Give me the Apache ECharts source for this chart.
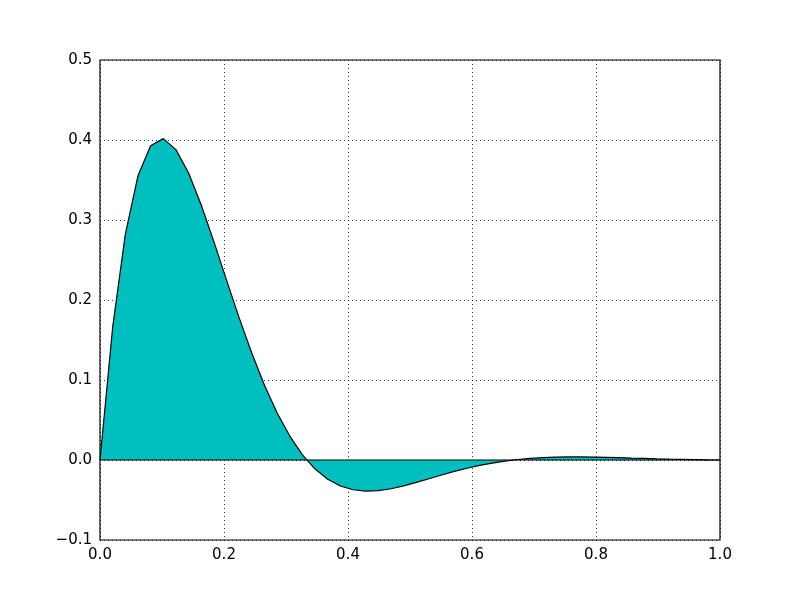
<!DOCTYPE html>
<html>
<head>
<meta charset="utf-8">
<script src="https://cdn.jsdelivr.net/npm/echarts@6/dist/echarts.min.js"></script>
<style>html,body{margin:0;padding:0;background:#fff;}#c{width:800px;height:600px;}</style>
</head>
<body>
<div id="c"></div>
<script>
// 50 evenly spaced samples on [0, 1]
const xValues = [];
for (let i = 0; i < 50; i++) xValues.push(i / 49);
const yValues = [
  0.0000, 0.1657, 0.2820, 0.3553, 0.3929, 0.4017, 0.3880, 0.3587, 0.3187, 0.2729,
  0.2249, 0.1777, 0.1335, 0.0934, 0.0587, 0.0299, 0.0065, -0.0113, -0.0241, -0.0325,
  -0.0372, -0.0388, -0.0382, -0.0359, -0.0323, -0.0280, -0.0234, -0.0187, -0.0143, -0.0103,
  -0.0067, -0.0038, -0.0013, 0.0006, 0.0020, 0.0029, 0.0035, 0.0038, 0.0038, 0.0036,
  0.0033, 0.0029, 0.0024, 0.0020, 0.0015, 0.0011, 0.0008, 0.0005, 0.0002, 0.0000
];
const xTicks = [0.0, 0.2, 0.4, 0.6, 0.8, 1.0];
const yTicks = [-0.1, 0.0, 0.1, 0.2, 0.3, 0.4, 0.5];

const fmt = v => (v < 0 ? '\u2212' : '') + Math.abs(v).toFixed(1);
const pts = xValues.map((x, i) => [x, yValues[i]]);

const chart = echarts.init(document.getElementById('c'), null, {renderer: 'canvas'});
chart.setOption({
  animation: false,
  backgroundColor: '#ffffff',
  grid: {left: 100, right: 80, top: 60, bottom: 60, show: true, borderColor: '#000', borderWidth: 1.2, backgroundColor: 'transparent'},
  xAxis: {
    type: 'value', min: 0, max: 1, interval: 0.2,
    axisLine: {show: false}, axisTick: {show: false},
    axisLabel: {formatter: fmt, color: '#000', fontFamily: 'DejaVu Sans', fontSize: 15, margin: 8},
    splitLine: {show: true, lineStyle: {color: '#000', type: [1, 3], width: 0.8}}
  },
  yAxis: {
    type: 'value', min: -0.1, max: 0.5, interval: 0.1,
    axisLine: {show: false}, axisTick: {show: false},
    axisLabel: {formatter: fmt, color: '#000', fontFamily: 'DejaVu Sans', fontSize: 15, margin: 8},
    splitLine: {show: true, lineStyle: {color: '#000', type: [1, 3], width: 0.8}}
  },
  series: [
    {
      type: 'line', data: pts, symbol: 'none', z: 3,
      lineStyle: {color: '#000', width: 1.2},
      areaStyle: {color: '#00BFBF', opacity: 1, origin: 0}
    },
    {
      type: 'line', data: [[xTicks[0], 0], [xTicks[xTicks.length - 1], 0]], symbol: 'none', z: 4,
      lineStyle: {color: '#000', width: 1}
    }
  ]
});
</script>
</body>
</html>
